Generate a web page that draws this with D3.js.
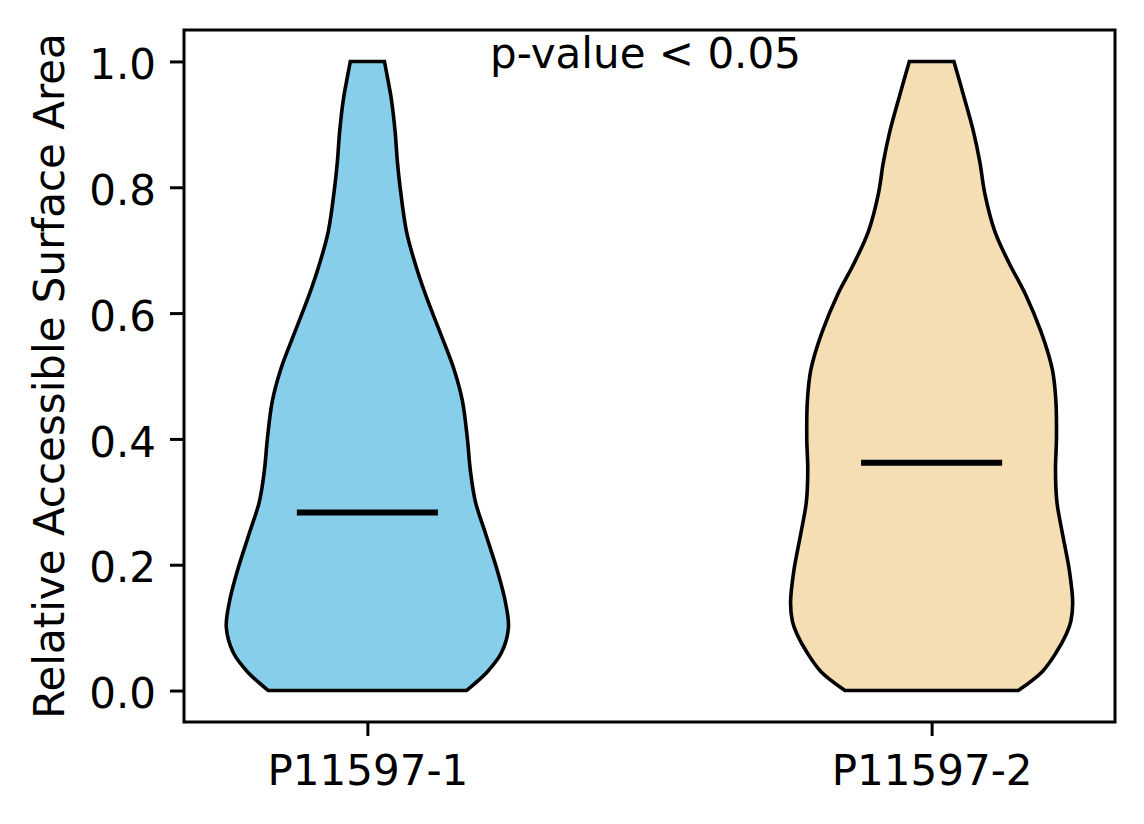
<!DOCTYPE html>
<html>
<head>
<meta charset="utf-8">
<script src="https://cdn.jsdelivr.net/npm/d3@7"></script>
<style>
  html, body { margin: 0; padding: 0; background: #fff; }
  svg { display: block; }
  text { font-family: "DejaVu Sans", sans-serif; fill: #000; }
</style>
</head>
<body>
<svg id="chart" width="1144" height="824"></svg>
<script>
// ---------- data ----------
const categories = ["P11597-1", "P11597-2"];
const colors = ["#87CEEB", "#F5DEB3"];
const yTicks = [0.0, 0.2, 0.4, 0.6, 0.8, 1.0];
const yLabel = "Relative Accessible Surface Area";
const annotation = "p-value < 0.05";

// density profiles (value level, normalized density 0..1)
const levels1 = [0.00, 0.03, 0.06, 0.10, 0.14, 0.19, 0.25, 0.30, 0.35, 0.40, 0.46, 0.51, 0.57, 0.63, 0.68, 0.73, 0.80, 0.84, 0.89, 0.94, 0.975, 1.00];
const density1 = [0.702, 0.851, 0.950, 1.000, 0.979, 0.922, 0.837, 0.766, 0.730, 0.709, 0.674, 0.615, 0.514, 0.411, 0.337, 0.277, 0.232, 0.213, 0.196, 0.170, 0.142, 0.121];
const levels2 = [0.00, 0.03, 0.06, 0.09, 0.11, 0.14, 0.19, 0.25, 0.30, 0.35, 0.40, 0.46, 0.51, 0.57, 0.63, 0.68, 0.73, 0.79, 0.84, 0.89, 0.94, 1.00];
const density2 = [0.614, 0.784, 0.882, 0.955, 0.987, 1.000, 0.977, 0.927, 0.888, 0.878, 0.885, 0.881, 0.856, 0.776, 0.665, 0.548, 0.448, 0.377, 0.342, 0.295, 0.234, 0.158];
const medians = [0.283, 0.362];

const violinWidth = 0.5;   // full width in x-data units (matplotlib default)

// ---------- layout ----------
const svg = d3.select("#chart");
const mLeft = 184, mRight = 1115, mTop = 30, mBottom = 722;
const fontSize = 42;

const x = d3.scaleLinear().domain([0.675, 2.325]).range([mLeft, mRight]);
const y = d3.scaleLinear().domain([-0.05, 1.05]).range([mBottom, mTop]);

const profiles = [
  levels1.map((v, i) => ({ v, d: density1[i] })),
  levels2.map((v, i) => ({ v, d: density2[i] }))
];

// violins
profiles.forEach((prof, i) => {
  const pos = i + 1;
  const area = d3.area()
    .curve(d3.curveCatmullRom.alpha(0.5))
    .y(p => y(p.v))
    .x0(p => x(pos - p.d * violinWidth / 2))
    .x1(p => x(pos + p.d * violinWidth / 2));
  svg.append("path")
    .attr("d", area(prof))
    .attr("fill", colors[i])
    .attr("stroke", "#000")
    .attr("stroke-width", 3.6)
    .attr("stroke-linejoin", "miter");
});

// medians
medians.forEach((m, i) => {
  const pos = i + 1;
  svg.append("line")
    .attr("x1", x(pos - violinWidth / 4))
    .attr("x2", x(pos + violinWidth / 4))
    .attr("y1", y(m))
    .attr("y2", y(m))
    .attr("stroke", "#000")
    .attr("stroke-width", 6);
});

// frame
svg.append("rect")
  .attr("x", mLeft).attr("y", mTop)
  .attr("width", mRight - mLeft).attr("height", mBottom - mTop)
  .attr("fill", "none").attr("stroke", "#000").attr("stroke-width", 3);

// y axis
const yAxis = d3.axisLeft(y).tickValues(yTicks).tickFormat(d3.format(".1f")).tickSize(14).tickPadding(14);
const gy = svg.append("g").attr("transform", `translate(${mLeft},0)`).call(yAxis);
gy.select(".domain").remove();
gy.selectAll(".tick line").attr("stroke", "#000").attr("stroke-width", 3);
gy.selectAll(".tick text").attr("font-size", fontSize).attr("dy", "0.41em")
  .style("font-family", "'DejaVu Sans', sans-serif");

// x axis
const xAxis = d3.axisBottom(x).tickValues([1, 2]).tickFormat(d => categories[d - 1]).tickSize(14);
const gx = svg.append("g").attr("transform", `translate(0,${mBottom})`).call(xAxis);
gx.select(".domain").remove();
gx.selectAll(".tick line").attr("stroke", "#000").attr("stroke-width", 3);
gx.selectAll(".tick text").attr("font-size", fontSize).attr("y", 63).attr("dy", 0)
  .style("font-family", "'DejaVu Sans', sans-serif");

// y label
svg.append("text")
  .attr("transform", `translate(64,${(mTop + mBottom) / 2}) rotate(-90)`)
  .attr("text-anchor", "middle")
  .attr("font-size", fontSize)
  .text(yLabel);

// annotation
svg.append("text")
  .attr("x", x(1.5) - 4)
  .attr("y", 68)
  .attr("text-anchor", "middle")
  .attr("font-size", fontSize)
  .text(annotation);
</script>
</body>
</html>
